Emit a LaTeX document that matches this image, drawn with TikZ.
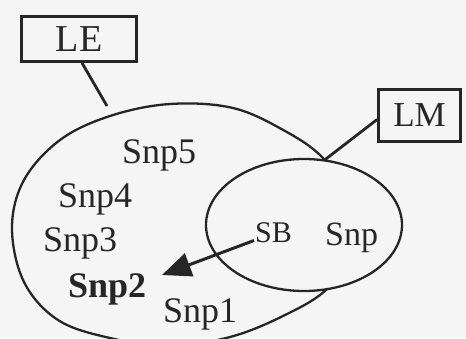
\documentclass[tikz,border=0pt]{standalone}
\usepackage{fontspec}
\setmainfont{Liberation Serif}
\usetikzlibrary{arrows.meta,shapes.geometric}
\begin{document}
\begin{tikzpicture}[x=1pt,y=-1pt,
  labelbox/.style={draw=black!85, line width=2.8pt, inner sep=0pt, text=black!85},
  region/.style={draw=black!85, line width=2.3pt},
  lead/.style={draw=black!85, line width=2.8pt},
  txt/.style={anchor=base west, inner sep=0pt, text=black!85, font=\fontsize{36}{40}\selectfont},
  pointer/.style={draw=black!85, line width=3pt, -{Triangle[length=29pt,width=24pt]}}
]
\useasboundingbox[fill=black!4] (0,0) rectangle (466,338);
% big region
\draw[region] plot[smooth cycle, tension=0.6] coordinates {(12,228) (24,180) (60,140) (110,116) (170,104) (233,108) (285,131) (323,158) (352,200) (358,245) (327,289) (283,316) (230,337) (170,346) (110,338) (58,320) (24,282)};
% small region
\node[ellipse, region, fill=black!4, minimum width=196pt, minimum height=132pt, inner sep=0pt] (small) at (304,225) {};
% label boxes
\node[labelbox, minimum width=115pt, minimum height=45pt, font=\fontsize{38}{40}\selectfont] (LE) at (79,39) {LE};
\node[labelbox, minimum width=82pt, minimum height=52pt, font=\fontsize{35}{40}\selectfont] (LM) at (419.5,115.5) {LM};
\coordinate (leEnd) at (107,106);
\draw[lead] ([xshift=3pt]LE.south) -- (leEnd);
\draw[lead] ([yshift=-4pt]LM.west) -- (small.72);
% texts
\node[txt] (snp5) at (122,163) {Snp5};
\node[txt] (snp4) at (58,207) {Snp4};
\node[txt] (snp3) at (43,251) {Snp3};
\node[txt, font=\fontsize{36}{40}\selectfont\bfseries] (snp2) at (68,297) {Snp2};
\node[txt] (snp1) at (163,322) {Snp1};
\node[txt, font=\fontsize{30}{34}\selectfont] (SB) at (255,242) {SB};
\node[txt, font=\fontsize{34}{38}\selectfont] (snp) at (325,245) {Snp};
\coordinate (tip) at (162,275);
\draw[pointer] ([xshift=-1pt,yshift=2pt]SB.south west) -- (tip);
\end{tikzpicture}
\end{document}
